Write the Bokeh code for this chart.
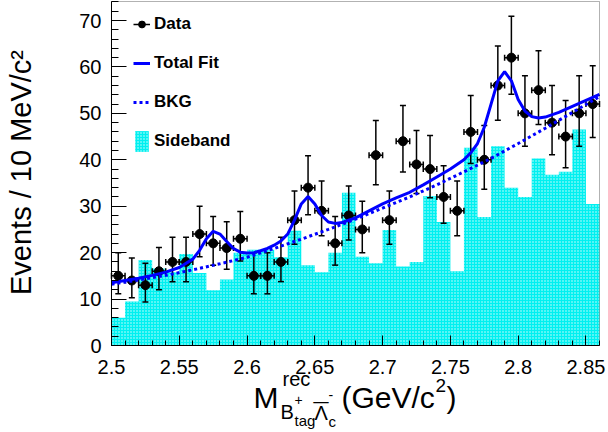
import numpy as np
from bokeh.plotting import figure
from bokeh.models import (ColumnDataSource, FixedTicker, Label, Legend, LegendItem,
                          BoxAnnotation)
from bokeh.embed import file_html
from bokeh.resources import INLINE

# ---------------- data ----------------
bin_start = 2.50
bin_width = 0.01
n_bins = 36

counts = [15, 14, 13, 16, 18, 18, 24, 22, 21, 23, 15, 15, 18, 27, 34, 29, 22, 28,
          25, 41, 27, 44, 39, 38, 32, 29, 46, 40, 56, 62, 50, 55, 48, 45, 50, 52]

sideband = [6.0, 9.5, 18.4, 16.6, 15.8, 19.7, 15.6, 11.9, 14.2, 20.0, 20.6, 20.6,
            19.0, 24.7, 17.3, 15.8, 20.0, 32.9, 19.1, 17.7, 24.9, 17.0, 18.0, 32.2,
            26.6, 16.0, 42.6, 27.7, 42.9, 34.0, 32.0, 40.3, 36.8, 37.4, 46.5, 30.5]

fit_x = [2.500, 2.510, 2.520, 2.530, 2.540, 2.550, 2.560, 2.565, 2.570, 2.575,
         2.580, 2.585, 2.590, 2.595, 2.600, 2.605, 2.610, 2.615, 2.620, 2.625,
         2.630, 2.635, 2.640, 2.645, 2.650, 2.655, 2.660, 2.665, 2.670, 2.680,
         2.690, 2.700, 2.710, 2.720, 2.730, 2.740, 2.750, 2.760, 2.765, 2.770,
         2.775, 2.780, 2.785, 2.790, 2.795, 2.800, 2.805, 2.810, 2.815, 2.820,
         2.830, 2.840, 2.850, 2.860]
fit_y = [13.5, 14.0, 14.5, 15.1, 15.8, 16.8, 18.6, 20.5, 23.0, 24.6,
         24.0, 22.4, 20.9, 20.1, 19.9, 20.0, 20.4, 20.9, 21.6, 22.5,
         24.0, 27.0, 30.5, 32.1, 30.5, 28.0, 26.6, 26.3, 26.5, 27.5,
         29.0, 30.5, 31.8, 33.0, 34.6, 36.3, 38.0, 40.0, 41.5, 43.5,
         47.0, 52.0, 57.0, 59.0, 57.0, 53.0, 50.5, 49.3, 49.0, 49.2,
         50.2, 51.5, 52.8, 54.1]

bkg_x = [2.50, 2.52, 2.54, 2.56, 2.58, 2.60, 2.62, 2.64, 2.66, 2.68,
         2.70, 2.72, 2.74, 2.76, 2.78, 2.80, 2.82, 2.84, 2.86]
bkg_y = [13.2, 14.1, 15.1, 16.3, 17.6, 19.0, 20.9, 22.9, 25.0, 27.2,
         29.6, 32.0, 34.6, 37.4, 40.3, 43.5, 46.8, 50.2, 53.6]

x_ticks = [2.5, 2.55, 2.6, 2.65, 2.7, 2.75, 2.8, 2.85]
x_tick_labels = ["2.5", "2.55", "2.6", "2.65", "2.7", "2.75", "2.8", "2.85"]
y_ticks = [0, 10, 20, 30, 40, 50, 60, 70]
y_minor = list(range(0, 75, 2))

# ---------------- derived ----------------
edges = bin_start + bin_width * np.arange(n_bins + 1)
centers = edges[:-1] + bin_width / 2
N = np.array(counts, dtype=float)
err_lo = N - np.sqrt(N)
err_hi = N + 1.0 + np.sqrt(N + 0.75)

W, H = 608, 432
# ROOT-like frame inside the canvas (pixel box of the axes)
FL, FR, FT, FB = 111, 599, 1, 345
XA, XB = 2.50, 2.86          # axis limits
YA = 0.0
PPY = 325.0 / 70.0           # pixels per event
PPX = (FR - FL) / (XB - XA)
YB = YA + (FB - FT) / PPY    # top of frame in data
x_range = (XA - FL / PPX, XB + (W - FR) / PPX)
y_range = (YA - (H - FB) / PPY, YA + FB / PPY)
FONT = "Liberation Sans"

p = figure(width=W, height=H, x_range=x_range, y_range=y_range,
           output_backend="svg", toolbar_location=None,
           min_border_left=0, min_border_right=0, min_border_top=0,
           min_border_bottom=0)
p.background_fill_color = "white"
p.border_fill_color = "white"
p.outline_line_alpha = 0
p.grid.visible = False

def dx(px):
    return x_range[0] + px / PPX
def dy(py):
    return y_range[1] - py / PPY

# sideband histogram
sb_top = list(sideband) + [sideband[-1]]
hist = p.varea_step(x=list(edges), y1=[0] * (n_bins + 1), y2=sb_top, step_mode="after",
                    fill_color="#00f0f0", hatch_pattern="dot", hatch_color="white",
                    hatch_scale=3, hatch_weight=1.3, hatch_alpha=0.85)

src = ColumnDataSource(dict(x=centers, y=N, lo=err_lo, hi=err_hi,
                            xl=edges[:-1], xr=edges[1:]))
vbar = p.segment(x0="x", y0="lo", x1="x", y1="hi", source=src,
                 line_color="black", line_width=1.5)
hbar = p.segment(x0="xl", y0="y", x1="xr", y1="y", source=src,
                 line_color="black", line_width=1.5)
p.scatter(np.concatenate([centers, centers]), np.concatenate([err_lo, err_hi]),
          marker="dash", size=6, line_color="black", line_width=1.5)
p.scatter(np.concatenate([edges[:-1], edges[1:]]), np.concatenate([N, N]),
          marker="dash", angle=np.pi / 2, size=6, line_color="black", line_width=1.5)
dots = p.scatter("x", "y", source=src, size=9, color="black")

fit = p.line(fit_x, fit_y, line_color="#0000ff", line_width=3)
bkg = p.line(bkg_x, bkg_y, line_color="#0000ff", line_width=3, line_dash="3 3")

# frame box (right / top edges)
p.add_layout(BoxAnnotation(left=XA, right=XB, bottom=YA, top=YB, fill_alpha=0,
                           line_color="black", line_width=1))

leg_h = 4 * 26 + 3 * 13
legend = Legend(items=[LegendItem(label="Data", renderers=[hbar, dots]),
                       LegendItem(label="Total Fit", renderers=[fit]),
                       LegendItem(label="BKG", renderers=[bkg]),
                       LegendItem(label="Sideband", renderers=[hist])],
                location=(133, H - 11 - leg_h), glyph_width=17, glyph_height=26,
                label_height=26, label_standoff=4, spacing=13, padding=0, margin=0,
                border_line_alpha=0, background_fill_alpha=0,
                label_text_font=FONT, label_text_font_size="17px",
                label_text_font_style="bold", label_text_color="black")
p.add_layout(legend)

# axes, placed on the frame edges
p.xaxis.fixed_location = YA
p.yaxis.fixed_location = XA
p.xaxis.bounds = (XA, XB)
p.yaxis.bounds = (YA, YB)
p.xaxis.ticker = FixedTicker(ticks=x_ticks, minor_ticks=list(np.round(edges, 3)))
p.xaxis.major_label_overrides = {t: l for t, l in zip(x_ticks, x_tick_labels)}
p.yaxis.ticker = FixedTicker(ticks=y_ticks, minor_ticks=y_minor)
p.xaxis.major_tick_in = 10
p.xaxis.minor_tick_in = 5
p.yaxis.major_tick_in = 15
p.yaxis.minor_tick_in = 7
for ax in (p.xaxis, p.yaxis):
    ax.major_tick_out = 0
    ax.minor_tick_out = 0
    ax.axis_line_color = "black"
    ax.major_tick_line_color = "black"
    ax.minor_tick_line_color = "black"
    ax.major_label_text_font = FONT
    ax.major_label_text_font_size = "20px"
    ax.major_label_text_color = "black"
p.yaxis.major_label_standoff = 10
p.xaxis.major_label_standoff = 14

# y title
p.add_layout(Label(x=dx(20), y=dy(172), text="Events / 10 MeV/c\u00b2", angle=np.pi / 2,
                   text_align="center", text_baseline="middle", text_font=FONT,
                   text_font_size="29px", text_color="black"))

# x title pieces (py = wanted baseline in pixels)
def piece(txt, px, py, size):
    p.add_layout(Label(x=dx(px), y=dy(py - 0.37 * size), text=txt, text_align="left",
                       text_baseline="alphabetic", text_font=FONT,
                       text_font_size=f"{size}px", text_color="black"))

piece("M", 253, 408, 30)
piece("rec", 282, 386, 20)
piece("B", 280, 419, 20)
piece("+", 294, 405, 14)
piece("tag", 294, 426, 15)
piece("\u039b", 314, 420, 20)
piece("\u00af", 313, 423, 27)
piece("-", 328, 400, 14)
piece("c", 328, 427, 15)
piece("(GeV/c", 341, 408, 30)
piece("2", 435, 392, 19)
piece(")", 446, 408, 30)

open("out.html", "w").write(file_html(p, INLINE))
